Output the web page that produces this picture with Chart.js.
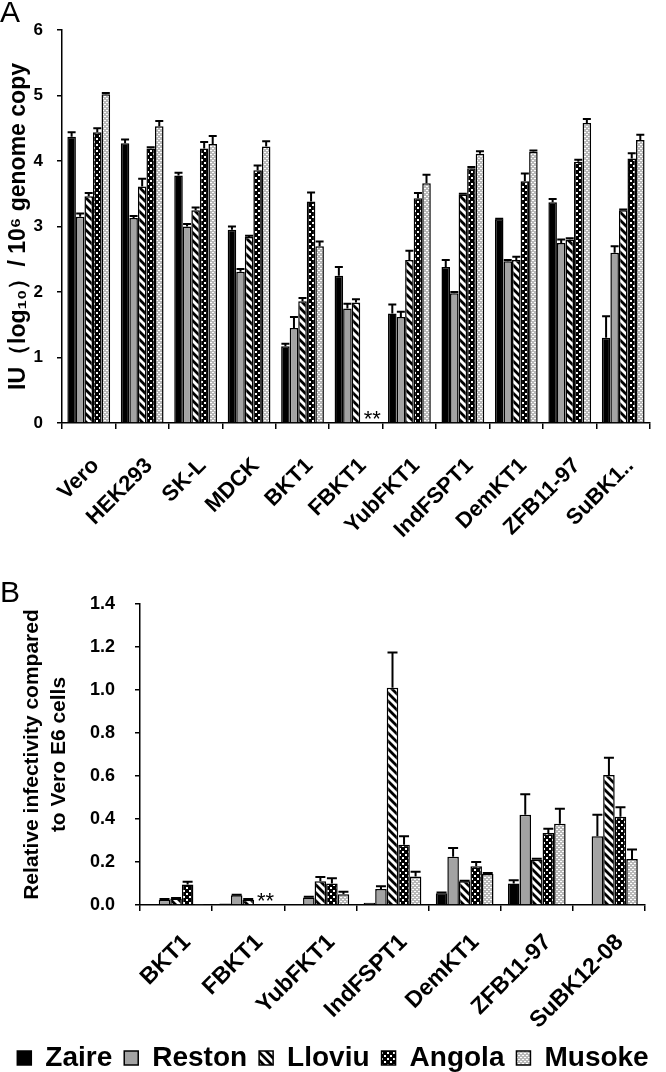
<!DOCTYPE html>
<html><head><meta charset="utf-8">
<script src="https://cdn.jsdelivr.net/npm/chart.js@4.4.0/dist/chart.umd.min.js"></script>
<style>
html,body{margin:0;padding:0;background:#fff;width:666px;height:1072px;overflow:hidden;position:relative;}
#ca{position:absolute;left:0;top:0;}
#cb{position:absolute;left:0;top:545px;}
.lab{position:absolute;font-family:"Liberation Sans",Arial,sans-serif;font-size:30px;line-height:1;color:#000;}
</style></head><body>
<canvas id="ca" width="666" height="570"></canvas>
<canvas id="cb" width="666" height="537"></canvas>
<div class="lab" style="left:0;top:-3px">A</div>
<div class="lab" style="left:0;top:577px">B</div>
<script>
// ---------- Data: panel A ----------
const categoriesA = ['Vero','HEK293','SK-L','MDCK','BKT1','FBKT1','YubFKT1','IndFSPT1','DemKT1','ZFB11-97','SuBK1..'];
const zaireA     = [4.37, 4.27, 3.78, 2.95, 1.17, 2.25, 1.67, 2.38, 3.11, 3.37, 1.30];
const zaireErrA  = [0.07, 0.06, 0.04, 0.05, 0.04, 0.13, 0.14, 0.11, 0.01, 0.05, 0.33];
const restonA    = [3.15, 3.13, 3.00, 2.31, 1.45, 1.75, 1.62, 1.98, 2.47, 2.75, 2.60];
const restonErrA = [0.05, 0.03, 0.04, 0.04, 0.17, 0.07, 0.08, 0.02, 0.02, 0.05, 0.10];
const lloviuA    = [3.46, 3.61, 3.25, 2.84, 1.86, 1.84, 2.49, 3.49, 2.49, 2.80, 3.25];
const lloviuErrA = [0.05, 0.12, 0.04, 0.02, 0.05, 0.05, 0.14, 0.01, 0.05, 0.02, 0.01];
const angolaA    = [4.44, 4.19, 4.19, 3.86, 3.38, null, 3.43, 3.89, 3.69, 3.99, 4.04];
const angolaErrA = [0.06, 0.02, 0.10, 0.07, 0.14, 0, 0.08, 0.02, 0.12, 0.03, 0.08];
const musokeA    = [5.02, 4.53, 4.26, 4.22, 2.70, null, 3.66, 4.11, 4.14, 4.58, 4.32];
const musokeErrA = [0.02, 0.08, 0.12, 0.08, 0.07, 0, 0.13, 0.04, 0.02, 0.06, 0.08];

// ---------- Data: panel B ----------
const categoriesB = ['BKT1','FBKT1','YubFKT1','IndFSPT1','DemKT1','ZFB11-97','SuBK12-08'];
const zaireB      = [0.003, 0.007, 0.003, 0.010, 0.055, 0.100, 0.003];
const zaireErrB   = [0, 0, 0, 0, 0.003, 0.015, 0];
const restonB     = [0.025, 0.045, 0.035, 0.075, 0.225, 0.420, 0.320];
const restonErrB  = [0.003, 0.003, 0.003, 0.012, 0.040, 0.095, 0.100];
const lloviuB     = [0.030, 0.025, 0.110, 1.010, 0.110, 0.210, 0.605];
const lloviuErrB  = [0.003, 0.003, 0.020, 0.165, 0.003, 0.005, 0.080];
const angolaB     = [0.095, null, 0.100, 0.280, 0.180, 0.335, 0.410];
const angolaErrB  = [0.013, 0, 0.025, 0.040, 0.020, 0.020, 0.045];
const musokeB     = [0.005, null, 0.050, 0.133, 0.144, 0.378, 0.214];
const musokeErrB  = [0, 0, 0.012, 0.022, 0.005, 0.070, 0.044];

const seriesNames = ['Zaire','Reston','Lloviu','Angola','Musoke'];
const yTitleA = 'IU（log₁₀）/ 10⁶ genome copy';
const yTitleB = ['Relative infectivity compared','to Vero E6 cells'];

const F = '"Liberation Sans", Arial, sans-serif';

function pattern(kind){
  const c = document.createElement('canvas');
  const x = c.getContext('2d');
  if(kind==='lloviu'){
    const s=8; c.width=c.height=s;
    x.fillStyle='#fff'; x.fillRect(0,0,s,s);
    x.strokeStyle='#000'; x.lineWidth=2.8; x.lineCap='square';
    x.beginPath();
    x.moveTo(-4,-4); x.lineTo(s+4,s+4);
    x.moveTo(-4,s-4); x.lineTo(4,s+4);
    x.moveTo(s-4,-4); x.lineTo(s+4,4);
    x.stroke();
  } else if(kind==='angola'){
    const s=6; c.width=c.height=s;
    x.fillStyle='#000'; x.fillRect(0,0,s,s);
    x.fillStyle='#fff'; x.fillRect(0,0,2,2); x.fillRect(3,3,2,2);
  } else {
    const s=4; c.width=c.height=s;
    x.fillStyle='#b9b9b9'; x.fillRect(0,0,s,s);
    x.fillStyle='#fff'; x.fillRect(0,0,2,1); x.fillRect(2,2,2,1);
  }
  return x.createPattern(c,'repeat');
}
const fills = ['#000000','#a3a3a3',pattern('lloviu'),pattern('angola'),pattern('musoke')];

function makeDatasets(vals, errs){
  return vals.map((v,i)=>({label:seriesNames[i], data:v, errors:errs[i],
    backgroundColor:fills[i], borderColor:'#000', borderWidth:1.5,
    categoryPercentage:0.8, barPercentage:1.0}));
}

const errPlugin = {
  id:'err',
  afterDatasetsDraw(chart, args, opts){
    const ctx=chart.ctx, y=chart.scales.y;
    chart.data.datasets.forEach((ds,di)=>{
      const meta=chart.getDatasetMeta(di);
      meta.data.forEach((bar,i)=>{
        const v=ds.data[i], e=ds.errors[i];
        if(v==null||!e) return;
        const y0=y.getPixelForValue(v), y1=y.getPixelForValue(v+e);
        ctx.save(); ctx.strokeStyle='#000'; ctx.lineWidth=opts.lw;
        ctx.beginPath(); ctx.moveTo(bar.x,y0); ctx.lineTo(bar.x,y1);
        ctx.moveTo(bar.x-opts.cap/2,y1); ctx.lineTo(bar.x+opts.cap/2,y1);
        ctx.stroke(); ctx.restore();
      });
    });
  }
};
const starPlugin = {
  id:'stars',
  afterDatasetsDraw(chart, args, opts){
    const ctx=chart.ctx, y=chart.scales.y;
    const bar=chart.getDatasetMeta(3).data[opts.index];
    const bx = bar.x + bar.width*opts.shift;
    ctx.save(); ctx.fillStyle='#000'; ctx.font='22px '+F;
    ctx.textAlign='center'; ctx.textBaseline='alphabetic';
    ctx.fillText('**', bx, y.getPixelForValue(0)+opts.dy);
    ctx.restore();
  }
};

new Chart(document.getElementById('ca'), {
  type:'bar',
  data:{labels:categoriesA, datasets:makeDatasets(
    [zaireA,restonA,lloviuA,angolaA,musokeA],[zaireErrA,restonErrA,lloviuErrA,angolaErrA,musokeErrA])},
  options:{
    responsive:false, animation:false, events:[],
    layout:{padding:{top:30,right:3,left:0,bottom:0}},
    plugins:{legend:{display:false}, tooltip:{enabled:false}, err:{lw:2,cap:8}, stars:{index:5, shift:0.9, dy:3}},
    scales:{
      x:{grid:{display:true,drawOnChartArea:false,drawTicks:true,tickLength:6,color:'#000',lineWidth:1.5,offset:true},
         border:{display:true,color:'#000',width:1.5},
         ticks:{color:'#000',font:{family:F,size:22,weight:'bold'},minRotation:45,maxRotation:45,autoSkip:false,padding:24,labelOffset:7},
         afterFit(s){s.height=570-423;}},
      y:{min:0,max:6,
         ticks:{stepSize:1,color:'#000',font:{family:F,size:17,weight:'bold'},padding:14},
         grid:{drawOnChartArea:false,tickLength:5,color:'#000',lineWidth:1.5},
         border:{color:'#000',width:1.5},
         title:{display:true,text:yTitleA,color:'#000',font:{family:F,size:23,weight:'bold'},padding:{top:5,bottom:0}},
         afterFit(s){s.width=62;}}
    }
  },
  plugins:[errPlugin, starPlugin]
});

new Chart(document.getElementById('cb'), {
  type:'bar',
  data:{labels:categoriesB, datasets:makeDatasets(
    [zaireB,restonB,lloviuB,angolaB,musokeB],[zaireErrB,restonErrB,lloviuErrB,angolaErrB,musokeErrB])},
  options:{
    responsive:false, animation:false, events:[],
    layout:{padding:{top:59,right:0,left:0,bottom:0}},
    plugins:{
      legend:{display:true,position:'bottom',
        labels:{color:'#000',font:{family:F,size:28,weight:'bold'},boxWidth:14,boxHeight:14,padding:12}},
      tooltip:{enabled:false}, err:{lw:2,cap:10}, stars:{index:1, shift:0.5, dy:3}},
    scales:{
      x:{grid:{display:true,drawOnChartArea:false,drawTicks:true,tickLength:6,color:'#000',lineWidth:1.5,offset:true},
         border:{display:true,color:'#000',width:1.5},
         ticks:{color:'#000',font:{family:F,size:23,weight:'bold'},minRotation:45,maxRotation:45,autoSkip:false,padding:18,labelOffset:11},
         afterFit(s){s.height=127;}},
      y:{min:0,max:1.4,
         ticks:{stepSize:0.2,color:'#000',font:{family:F,size:18,weight:'bold'},padding:20,callback:v=>v.toFixed(1)},
         grid:{drawOnChartArea:false,tickLength:5,color:'#000',lineWidth:1.5},
         border:{color:'#000',width:1.5},
         title:{display:true,text:yTitleB,color:'#000',font:{family:F,size:21,weight:'bold',lineHeight:1.286},padding:{top:18.5,bottom:0}},
         afterFit(s){s.width=140;}},
      yR:{type:'linear',position:'right',display:true,
         ticks:{display:false},grid:{display:false},border:{display:false},
         afterFit(s){s.width=21;}}
    }
  },
  plugins:[errPlugin, starPlugin]
});
</script>
</body></html>
